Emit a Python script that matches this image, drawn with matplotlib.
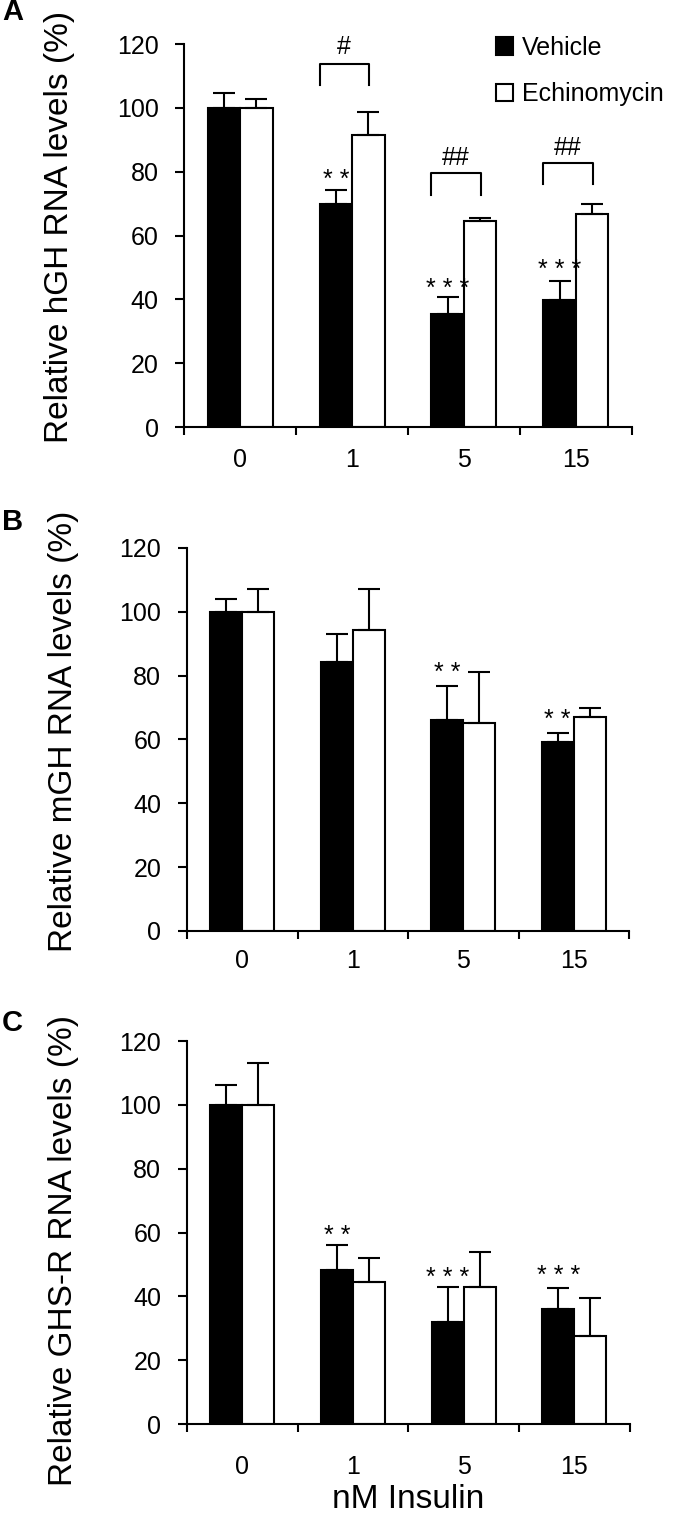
import matplotlib
matplotlib.use("Agg")
import matplotlib.pyplot as plt
from matplotlib.patches import Patch
import numpy as np

plt.rcParams['font.family'] = ['Liberation Sans', 'DejaVu Sans']

doses = ['0', '1', '5', '15']
series = ['Vehicle', 'Echinomycin']

# panel A - hGH
hgh_veh = [100, 69.8, 35.4, 39.8]
hgh_veh_err = [4.7, 4.5, 5.4, 6.0]
hgh_ech = [100, 91.6, 64.6, 66.8]
hgh_ech_err = [2.9, 7.1, 0.8, 3.1]
hgh_stars = [(1, '**', 75.2), (2, '***', 41.1), (3, '***', 47.0)]
# (dose index, label, bracket top, leg bottom, label baseline)
hgh_brackets = [(1, '#', 113.8, 107.1, 116.9), (2, '##', 79.5, 72.8, 82.2), (3, '##', 82.7, 76.2, 85.3)]

# panel B - mGH
mgh_veh = [100, 84.4, 66.2, 59.3]
mgh_veh_err = [4.1, 8.7, 10.5, 2.8]
mgh_ech = [100, 94.2, 65.1, 67.1]
mgh_ech_err = [7.1, 12.9, 16.0, 2.9]
mgh_stars = [(2, '**', 78.5), (3, '**', 64.0)]

# panel C - GHS-R
ghsr_veh = [100, 48.3, 31.9, 36.2]
ghsr_veh_err = [6.3, 7.9, 11.0, 6.3]
ghsr_ech = [100, 44.6, 43.0, 27.6]
ghsr_ech_err = [13.1, 7.3, 10.8, 11.9]
ghsr_stars = [(1, '**', 56.6), (2, '***', 43.7), (3, '***', 44.2)]

panels = [
    ('A', 'Relative hGH RNA levels (%)', hgh_veh, hgh_veh_err, hgh_ech, hgh_ech_err, hgh_stars, hgh_brackets,
     [0.271, 0.7187, 0.658, 0.2523], 1518 - 12, 15, 0.522),
    ('B', 'Relative mGH RNA levels (%)', mgh_veh, mgh_veh_err, mgh_ech, mgh_ech_err, mgh_stars, [],
     [0.275, 0.3867, 0.650, 0.2523], 1518 - 522, 13, 0.521),
    ('C', 'Relative GHS-R RNA levels (%)', ghsr_veh, ghsr_veh_err, ghsr_ech, ghsr_ech_err, ghsr_stars, [],
     [0.275, 0.0619, 0.651, 0.2523], 1518 - 1023, 22, 0.453),
]

W, H = 680, 1518
fig = plt.figure(figsize=(W / 100, H / 100), dpi=100)

w = 0.29
x = np.arange(len(doses)) + 0.5
lw = 1.5

for letter, ylab, veh, veh_err, ech, ech_err, stars, brackets, rect, ly, xpad, ylab_y in panels:
    ax = fig.add_axes(rect)
    ax.bar(x - w / 2, veh, w, color='black', edgecolor='black', linewidth=lw, zorder=2)
    ax.bar(x + w / 2, ech, w, color='white', edgecolor='black', linewidth=lw, zorder=2)
    ax.errorbar(x - w / 2, veh, yerr=[np.zeros(4), veh_err], fmt='none', ecolor='black',
                elinewidth=lw, capsize=8, capthick=lw, zorder=3)
    ax.errorbar(x + w / 2, ech, yerr=[np.zeros(4), ech_err], fmt='none', ecolor='black',
                elinewidth=lw, capsize=8, capthick=lw, zorder=3)

    # asterisks are printed spaced out in the original
    for i, s, yb in stars:
        ax.text(x[i] - w / 2, yb, ' '.join(s), ha='center', va='baseline', fontsize=18)
    for i, s, top, bot, yb in brackets:
        x0, x1 = x[i] - w, x[i] + 0.15
        ax.plot([x0, x0, x1, x1], [bot, top, top, bot], color='black', lw=lw)
        ax.text((x0 + x1) / 2, yb, s, ha='center', va='baseline', fontsize=18)

    ax.set_xlim(0, 4)
    ax.set_ylim(0, 120)
    ax.set_yticks(np.arange(0, 121, 20))
    ax.set_xticks(np.arange(0, 5))
    ax.set_xticklabels([])
    ax.set_xticks(x, minor=True)
    ax.set_xticklabels(doses, minor=True)
    ax.tick_params(axis='x', which='major', direction='out', length=6, width=lw)
    ax.tick_params(axis='x', which='minor', length=0, pad=xpad, labelsize=18)
    ax.tick_params(axis='y', direction='out', length=6.5, width=lw, pad=12, labelsize=18)
    for sp in ['top', 'right']:
        ax.spines[sp].set_visible(False)
    for sp in ['left', 'bottom']:
        ax.spines[sp].set_linewidth(lw)
    ax.set_ylabel(ylab, fontsize=24)
    ax.yaxis.set_label_coords(-0.245, ylab_y)

    fig.text(2 / W, ly / H, letter, fontsize=21, fontweight='bold', ha='left', va='center')

    if letter == 'A':
        handles = [Patch(facecolor='black', edgecolor='black', linewidth=lw),
                   Patch(facecolor='white', edgecolor='black', linewidth=lw)]
        ax.legend(handles, series, loc='upper left', bbox_to_anchor=(0.696, 1.022), frameon=False,
                  fontsize=18, handlelength=0.7, handleheight=0.7, handletextpad=0.35,
                  labelspacing=0.9, borderpad=0, borderaxespad=0)
    if letter == 'C':
        ax.set_xlabel('nM Insulin', fontsize=24, labelpad=4)

fig.savefig('out.png', dpi=100)
